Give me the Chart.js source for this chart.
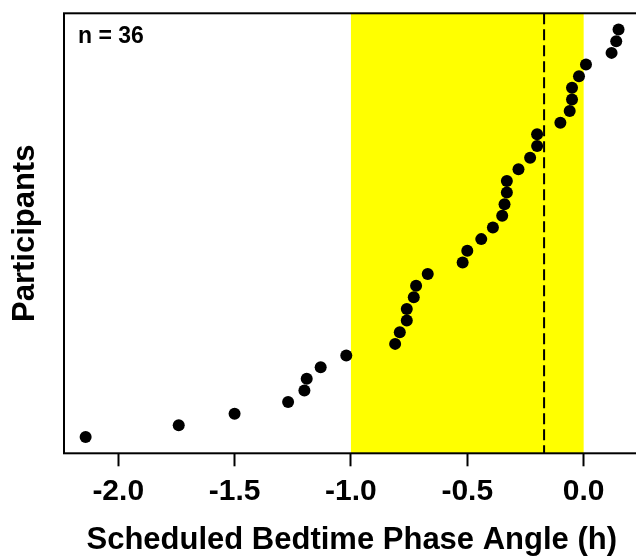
<!DOCTYPE html>
<html>
<head>
<meta charset="utf-8">
<script src="https://cdn.jsdelivr.net/npm/chart.js@4/dist/chart.umd.min.js"></script>
<style>
  html, body { margin: 0; padding: 0; background: #fff; overflow: hidden; }
</style>
</head>
<body>
<canvas id="chart" width="650" height="559"></canvas>
<script>
// phase angle per participant, sorted (bottom -> top)
const phaseAngle = [-2.14, -1.74, -1.50, -1.27, -1.20, -1.19, -1.13, -1.02,
  -0.81, -0.79, -0.76, -0.76, -0.73, -0.72, -0.67, -0.52, -0.50, -0.44,
  -0.39, -0.35, -0.34, -0.33, -0.33, -0.28, -0.23, -0.20, -0.20, -0.10,
  -0.06, -0.05, -0.05, -0.02, 0.01, 0.12, 0.14, 0.15]
const participants = phaseAngle.map((v, i) => i + 1)
const xTicks = [-2.0, -1.5, -1.0, -0.5, 0.0]
const band = [-1.0, 0.0]
const refLine = -0.17
const nLabel = 'n = 36'

const FONT = "'Liberation Sans', Arial, Helvetica, sans-serif"

const points = phaseAngle.map((v, i) => ({ x: v, y: participants[i] }))

const decorations = {
  id: 'decorations',
  beforeDatasetsDraw(chart) {
    const { ctx, chartArea, scales } = chart
    const x = scales.x
    ctx.save()
    // yellow band
    const x0 = x.getPixelForValue(band[0])
    const x1 = x.getPixelForValue(band[1])
    ctx.fillStyle = '#ffff00'
    ctx.fillRect(x0, chartArea.top, x1 - x0, chartArea.bottom - chartArea.top)
    // dashed reference line
    const xr = x.getPixelForValue(refLine)
    ctx.strokeStyle = '#000'
    ctx.lineWidth = 2
    ctx.setLineDash([11, 5])
    ctx.beginPath()
    ctx.moveTo(xr, chartArea.top)
    ctx.lineTo(xr, chartArea.bottom)
    ctx.stroke()
    ctx.restore()
  },
  afterDraw(chart) {
    const { ctx, chartArea } = chart
    ctx.save()
    ctx.strokeStyle = '#000'
    ctx.lineWidth = 2
    ctx.strokeRect(chartArea.left, chartArea.top, chartArea.right - chartArea.left, chartArea.bottom - chartArea.top)
    ctx.fillStyle = '#000'
    ctx.font = 'bold 23px ' + FONT
    ctx.textBaseline = 'alphabetic'
    ctx.fillText(nLabel, chartArea.left + 14, chartArea.top + 30)
    ctx.restore()
  }
}

new Chart('chart', {
  type: 'scatter',
  data: {
    datasets: [{
      data: points,
      backgroundColor: '#000',
      borderWidth: 0,
      pointRadius: 6,
      pointHoverRadius: 6
    }]
  },
  options: {
    responsive: false,
    animation: false,
    devicePixelRatio: 1,
    layout: { padding: { top: 13.3, right: 10.5, left: 0, bottom: 0 } },
    plugins: { legend: { display: false }, tooltip: { enabled: false } },
    scales: {
      x: {
        type: 'linear',
        min: -2.233,
        max: 0.24,
        afterBuildTicks: s => { s.ticks = xTicks.map(v => ({ value: v })) },
        afterFit: s => { s.height = 105.7 },
        border: { display: false },
        grid: { drawOnChartArea: false, tickLength: 13, tickWidth: 2, tickColor: '#000' },
        ticks: {
          color: '#000',
          padding: 7,
          maxRotation: 0,
          font: { family: FONT, size: 30, weight: 'bold' },
          callback: v => v.toFixed(1)
        },
        title: {
          display: true,
          text: 'Scheduled Bedtime Phase Angle (h)',
          color: '#000',
          padding: { top: 0, bottom: 0 },
          font: { family: FONT, size: 31, weight: 'bold' }
        }
      },
      y: {
        type: 'linear',
        min: -0.4,
        max: 37.4,
        afterFit: s => { s.width = 64 },
        border: { display: false },
        grid: { display: false },
        ticks: { display: false },
        title: {
          display: true,
          text: 'Participants',
          color: '#000',
          padding: { top: 7, bottom: 0 },
          font: { family: FONT, size: 31, weight: 'bold' }
        }
      }
    }
  },
  plugins: [decorations]
})
</script>
</body>
</html>
